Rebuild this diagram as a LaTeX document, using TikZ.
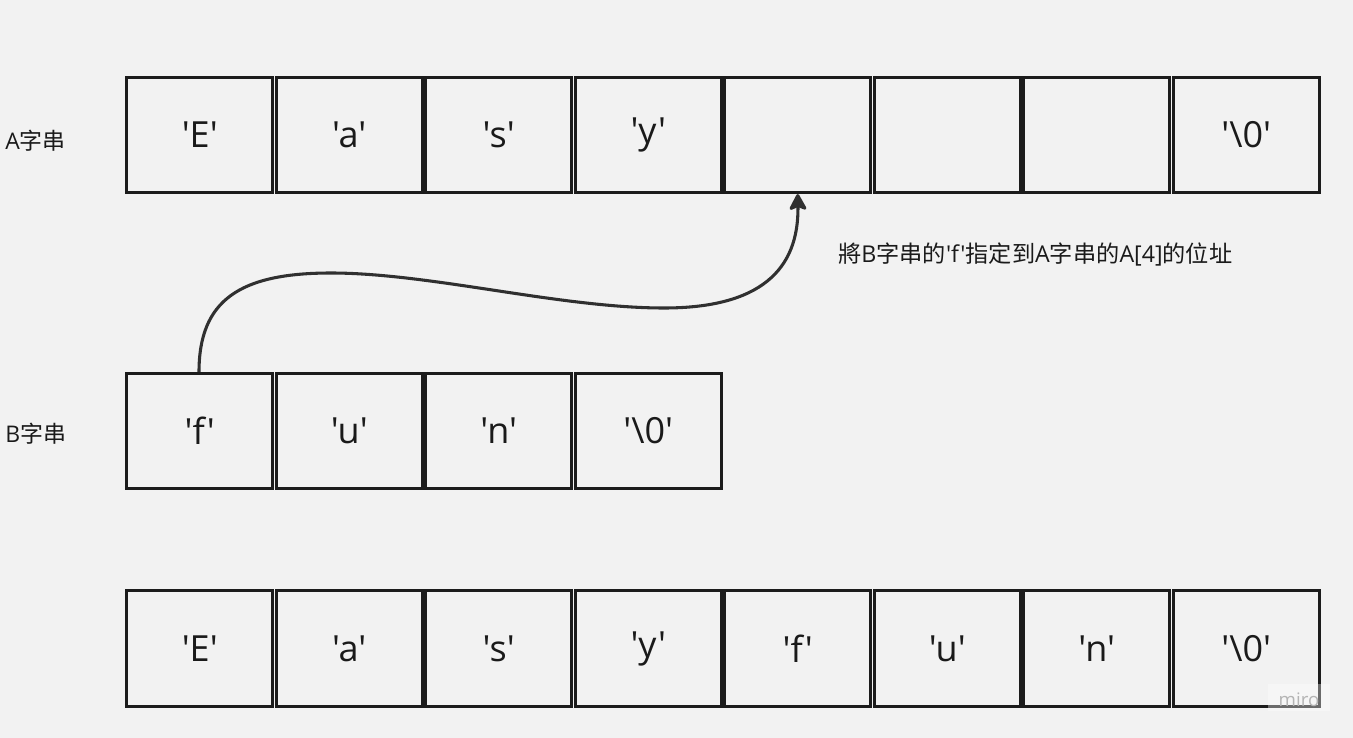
\documentclass[tikz,border=0pt]{standalone}
\usepackage{fontspec}
\setmainfont{Open Sans}[Ligatures=TeXOff]
\newfontfamily\cjk{Noto Sans CJK TC}[Ligatures=TeXOff]
\usetikzlibrary{arrows.meta}
\definecolor{bgc}{HTML}{F2F2F2}
\definecolor{cellc}{HTML}{1C1C1C}
\definecolor{txtc}{HTML}{1A1A1A}
\definecolor{arrc}{HTML}{303030}
\definecolor{wmc}{HTML}{B4B4B4}
\begin{document}
\begin{tikzpicture}[x=0.75pt,y=-0.75pt,
  cell/.style={draw=cellc, line width=2.25pt, minimum width=109.6pt, minimum height=86.4pt,
    inner sep=0pt, text=txtc, font=\fontsize{27}{32}\selectfont},
  side/.style={text=txtc, font=\fontsize{17.2}{20}\selectfont, inner sep=0pt},
  note/.style={text=txtc, font=\fontsize{17.4}{20}\selectfont, inner sep=0pt, anchor=west},
  arr/.style={draw=arrc, line width=2.3pt, -{Stealth[length=14pt,width=15pt,inset=3pt,round]}}]
\fill[bgc] (0,0) rectangle (1353,738);
\useasboundingbox (0,0) rectangle (1353,738);
% row A
\foreach \t [count=\i] in {{'E'},{'a'},{'s'},{'y'},{},{},{},{'\textbackslash0'}}
  \node[cell] (a\i) at ({199.75+149.5*(\i-1)},135) {\t};
% row B
\foreach \t [count=\i] in {{'f'},{'u'},{'n'},{'\textbackslash0'}}
  \node[cell] (b\i) at ({199.75+149.5*(\i-1)},431) {\t};
% row C
\foreach \t [count=\i] in {{'E'},{'a'},{'s'},{'y'},{'f'},{'u'},{'n'},{'\textbackslash0'}}
  \node[cell] (c\i) at ({199.75+149.5*(\i-1)},648.5) {\t};
% side labels
\node[side, anchor=west] (la) at (5,141) {A{\cjk 字串}};
\node[side, anchor=west] (lb) at (5,434) {B{\cjk 字串}};
% note
\node[note] (nt) at (838,255) {{\cjk 將}B{\cjk 字串的}'f'{\cjk 指定到}A{\cjk 字串的}A[4]{\cjk 的位址}};
% arrow
\coordinate (s) at (199,370);
\draw[arr] (b1.north -| s) .. controls (199,300) and (240,273) .. (331,273)
  .. controls (430,273) and (560,308) .. (664,308)
  .. controls (760,308) and (799,270) .. (a5.south);
% watermark
\fill[white, fill opacity=0.35] (1268,684) rectangle (1330,711);
\node[text=wmc, font=\fontsize{14}{16}\selectfont, inner sep=0pt] (wm) at (1299,700) {miro};
\end{tikzpicture}
\end{document}
